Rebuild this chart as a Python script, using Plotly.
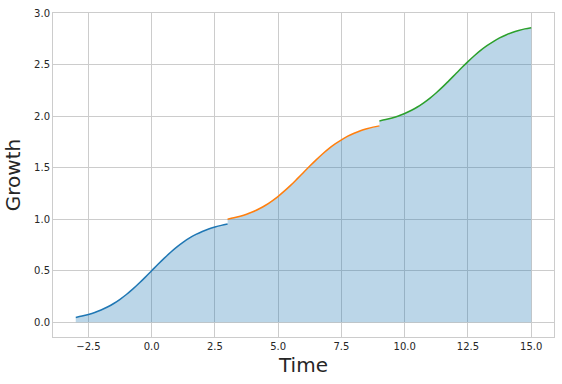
import plotly.graph_objects as go

# Time points for each segment
time_a = [-3.0, -2.75, -2.5, -2.25, -2.0, -1.75, -1.5, -1.25, -1.0, -0.75, -0.5, -0.25, 0.0,
          0.25, 0.5, 0.75, 1.0, 1.25, 1.5, 1.75, 2.0, 2.25, 2.5, 2.75, 3.0]
time_b = [3.0, 3.25, 3.5, 3.75, 4.0, 4.25, 4.5, 4.75, 5.0, 5.25, 5.5, 5.75, 6.0,
          6.25, 6.5, 6.75, 7.0, 7.25, 7.5, 7.75, 8.0, 8.25, 8.5, 8.75, 9.0]
time_c = [9.0, 9.25, 9.5, 9.75, 10.0, 10.25, 10.5, 10.75, 11.0, 11.25, 11.5, 11.75, 12.0,
          12.25, 12.5, 12.75, 13.0, 13.25, 13.5, 13.75, 14.0, 14.25, 14.5, 14.75, 15.0]

growth_a = [0.047, 0.060, 0.076, 0.095, 0.119, 0.148, 0.182, 0.223, 0.269, 0.321, 0.378, 0.438, 0.500,
            0.562, 0.622, 0.679, 0.731, 0.777, 0.818, 0.852, 0.881, 0.905, 0.924, 0.940, 0.953]
growth_b = [1.000, 1.013, 1.029, 1.048, 1.072, 1.101, 1.135, 1.176, 1.222, 1.274, 1.330, 1.391, 1.453,
            1.515, 1.575, 1.632, 1.684, 1.730, 1.770, 1.805, 1.834, 1.858, 1.877, 1.893, 1.905]
growth_c = [1.953, 1.966, 1.982, 2.001, 2.025, 2.054, 2.088, 2.129, 2.175, 2.227, 2.283, 2.344, 2.406,
            2.468, 2.528, 2.585, 2.637, 2.683, 2.723, 2.758, 2.787, 2.811, 2.830, 2.846, 2.858]

colors = ["#1f77b4", "#ff7f0e", "#2ca02c"]

x_ticks = [-2.5, 0.0, 2.5, 5.0, 7.5, 10.0, 12.5, 15.0]
y_ticks = [0.0, 0.5, 1.0, 1.5, 2.0, 2.5, 3.0]

fig = go.Figure()

fig.add_trace(go.Scatter(
    x=time_a + time_b + time_c,
    y=growth_a + growth_b + growth_c,
    mode="lines", line=dict(width=0), fill="tozeroy",
    fillcolor="rgba(31,119,180,0.3)", hoverinfo="skip", showlegend=False,
))

for t, g, c in zip([time_a, time_b, time_c], [growth_a, growth_b, growth_c], colors):
    fig.add_trace(go.Scatter(x=t, y=g, mode="lines", line=dict(color=c, width=1.5, shape="spline"),
                             showlegend=False))

axis_common = dict(
    showgrid=True, gridcolor="#cccccc", gridwidth=1,
    showline=True, linecolor="#cccccc", linewidth=1, mirror=True,
    zeroline=False, ticks="", tickformat=".1f",
    tickfont=dict(family="DejaVu Sans", size=10, color="#262626"),
)

fig.update_layout(
    width=562, height=384,
    margin=dict(l=53, r=7, t=11, b=47),
    paper_bgcolor="white", plot_bgcolor="white",
    font=dict(family="DejaVu Sans", color="#262626"),
    xaxis=dict(axis_common, range=[-3.9, 15.9], tickvals=x_ticks,
               title=dict(text="Time", font=dict(size=20, color="#262626"), standoff=6)),
    yaxis=dict(axis_common, range=[-0.143, 3.0], tickvals=y_ticks,
               title=dict(text="Growth", font=dict(size=20, color="#262626"), standoff=8)),
)

fig.write_html("out.html")
